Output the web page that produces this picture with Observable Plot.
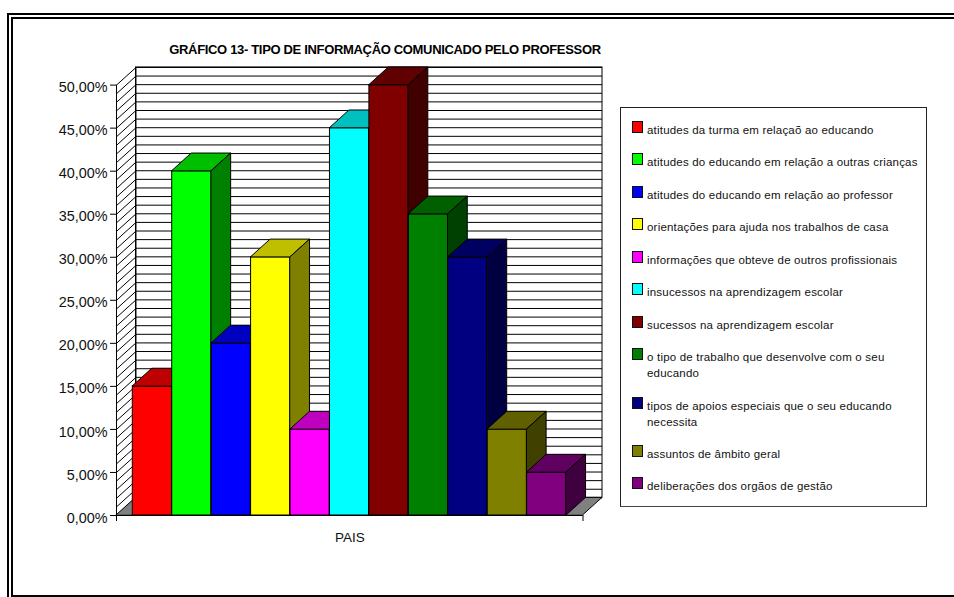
<!DOCTYPE html>
<html lang="pt">
<head>
<meta charset="utf-8">
<script src="https://cdn.jsdelivr.net/npm/d3@7"></script>
<script src="https://cdn.jsdelivr.net/npm/@observablehq/plot@0.6"></script>
<style>
  html, body { margin: 0; padding: 0; background: #fff; }
  body { position: relative; width: 954px; height: 597px; overflow: hidden; font-family: "Liberation Sans", Arial, sans-serif; color: #111; }
  #chart { position: absolute; left: 0; top: 0; }
  .frame { position: absolute; box-sizing: border-box; border-style: solid; border-color: #000; }
  #outer { left: 7px; top: 13px; right: 0; bottom: 0; border-width: 2px 0 0 2px; }
  #inner { left: 11px; top: 17px; right: 0; bottom: 0; border-width: 2px 0 2px 2px; }
  #title { position: absolute; left: 100px; width: 570px; top: 43px; text-align: center; font-size: 13px; font-weight: bold; letter-spacing: -0.33px; line-height: 14px; white-space: nowrap; color: #000; }
  #legend { position: absolute; left: 620px; top: 107px; width: 307px; height: 400px; box-sizing: border-box; border: 1px solid #222; border-bottom-color: #444; background: #fff; padding: 14px 0 0 11px; font-size: 11.5px; letter-spacing: 0.2px; line-height: 16px; }
  .item { position: relative; padding-left: 15px; margin-bottom: 16.45px; width: 276px; box-sizing: border-box; width: 291px; }
  .swatch { position: absolute; left: 0; top: -1px; width: 9px; height: 10px; border: 1px solid #111; }
</style>
</head>
<body>
<div id="chart"></div>
<div id="outer" class="frame"></div>
<div id="inner" class="frame"></div>
<div id="title"></div>
<div id="legend"></div>
<script>
const titleText = "GRÁFICO 13- TIPO DE INFORMAÇÃO COMUNICADO PELO PROFESSOR";
const categoryLabel = "PAIS";
const categories = [
  "atitudes da turma em relaçaõ ao educando",
  "atitudes do educando em relação a outras crianças",
  "atitudes do educando em relação ao professor",
  "orientações para ajuda nos trabalhos de casa",
  "informações que obteve de outros profissionais",
  "insucessos na aprendizagem escolar",
  "sucessos na aprendizagem escolar",
  "o tipo de trabalho que desenvolve com o seu educando",
  "tipos de apoios especiais que o seu educando necessita",
  "assuntos de âmbito geral",
  "deliberações dos orgãos de gestão"
];
const values = [15, 40, 20, 30, 10, 45, 50, 35, 30, 10, 5];
const frontColors = ["#ff0000", "#00ff00", "#0000ff", "#ffff00", "#ff00ff", "#00ffff", "#800000", "#008000", "#000080", "#808000", "#800080"];
const topColors   = ["#bf0000", "#00bf00", "#0000bf", "#bfbf00", "#bf00bf", "#00bfbf", "#600000", "#006000", "#000060", "#606000", "#600060"];
const sideColors  = ["#800000", "#008000", "#000080", "#808000", "#800080", "#008080", "#400000", "#004000", "#000040", "#404000", "#400040"];
const yTicks = [0, 5, 10, 15, 20, 25, 30, 35, 40, 45, 50];

// Extent of the category axis, in bar widths, and the oblique depth of the 3-D box.
const xMin = -0.413, xMax = 11.417;
const depthX = 0.4945, depthY = 2.05;
const gridValues = d3.range(0, 51);
const yFormat = d => d.toFixed(2).replace(".", ",") + "%";

function bar(v, i) {
  const front = Plot.rectY([v], {x1: i, x2: i + 1, y1: 0, y2: d => d, fill: frontColors[i], stroke: "#000", strokeWidth: 1});
  const top = Plot.areaX([0, depthY], {
    y: d => v + d,
    x1: d => i + d / depthY * depthX,
    x2: d => i + 1 + d / depthY * depthX,
    fill: topColors[i], stroke: "#000", strokeWidth: 1
  });
  const side = Plot.areaY([0, depthX], {
    x: d => i + 1 + d,
    y1: d => d / depthX * depthY,
    y2: d => v + d / depthX * depthY,
    fill: sideColors[i], stroke: "#000", strokeWidth: 1
  });
  return [front, top, side];
}

const plot = Plot.plot({
  width: 954,
  height: 597,
  marginLeft: 116,
  marginRight: 371.5,
  marginTop: 84.6,
  marginBottom: 82,
  style: {fontFamily: '"Liberation Sans", Arial, sans-serif', fontSize: "14px", color: "#111", background: "transparent", overflow: "visible"},
  x: {type: "linear", domain: [xMin, xMax]},
  y: {type: "linear", domain: [0, 50]},
  marks: [
    // back wall
    Plot.rect([0], {x1: xMin + depthX, x2: xMax + depthX, y1: depthY, y2: 50 + depthY, fill: "#fff", stroke: "#000"}),
    Plot.ruleY(gridValues, {y: d => d + depthY, x1: xMin + depthX, x2: xMax + depthX, stroke: "#000", strokeWidth: 1}),
    // left wall
    Plot.link(gridValues, {x1: xMin, y1: d => d, x2: xMin + depthX, y2: d => d + depthY, stroke: "#000", strokeWidth: 1}),
    Plot.ruleX([xMin + depthX], {y1: depthY, y2: 50 + depthY, stroke: "#000"}),
    // floor
    Plot.areaX([0, depthY], {
      y: d => d,
      x1: d => xMin + d / depthY * depthX,
      x2: d => xMax + d / depthY * depthX,
      fill: "#808080", stroke: "#000", strokeWidth: 1
    }),
    // axes
    Plot.axisY({ticks: yTicks, tickSize: 6, fill: "none", stroke: "#000", label: null}),
    Plot.axisY({ticks: yTicks, tickFormat: yFormat, tickSize: 0, tickPadding: 9, dy: 2.5, label: null, fontSize: 14.4}),
    Plot.axisX({ticks: [xMin, xMax], tickSize: 6, fill: "none", stroke: "#000", label: null}),
    Plot.axisX({ticks: [(xMin + xMax) / 2], tickFormat: () => categoryLabel, tickSize: 0, tickPadding: 17, label: null, fontSize: 13.5}),
    Plot.ruleX([xMin], {y1: 0, y2: 50, stroke: "#000"}),
    Plot.ruleY([0], {x1: xMin, x2: xMax, stroke: "#000"}),
    // bars, drawn left to right so that each one hides its neighbour's side
    ...values.flatMap(bar)
  ]
});
document.getElementById("chart").append(plot);

document.getElementById("title").textContent = titleText;
const legend = d3.select("#legend");
categories.forEach((c, i) => {
  const item = legend.append("div").attr("class", "item");
  item.append("span").attr("class", "swatch").style("background", frontColors[i]);
  item.append("span").text(c);
});
</script>
</body>
</html>
